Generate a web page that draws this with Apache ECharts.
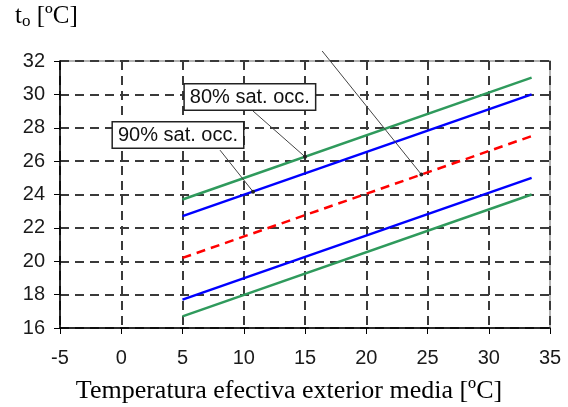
<!DOCTYPE html>
<html>
<head>
<meta charset="utf-8">
<script src="https://cdn.jsdelivr.net/npm/echarts@6/dist/echarts.min.js"></script>
<style>
    html, body {margin: 0; padding: 0; background: #fff;}
    #chart {width: 568px; height: 407px;}
</style>
</head>
<body>
<div id="chart"></div>
<script>
// x range of the comfort lines
const xRange = [5, 33.5];
// operative temperature at x=5 and x=33.5
const greenUpper = [23.7, 31.0];
const blueUpper = [22.7, 30.0];
const redCenter = [20.2, 27.5];
const blueLower = [17.7, 25.0];
const greenLower = [16.7, 24.0];

const xTicks = [-5, 0, 5, 10, 15, 20, 25, 30, 35];
const yTicks = [16, 18, 20, 22, 24, 26, 28, 30, 32];

// annotation boxes (text, center in data coords)
const notes = [
    ['80% sat. occ.', 10.5, 29.84],
    ['90% sat. occ.', 4.63, 27.56]
];
// leader lines: from -> to (data coords)
const leaders = [
    [[10.76, 29.0], [15, 26.26]],
    [[8.06, 26.66], [10.76, 24.17]],
    [[16.4, 32.6], [24.5, 25.2]]
];

const toPairs = vals => xRange.map((x, i) => [x, vals[i]]);

const chart = echarts.init(document.getElementById('chart'));

const lineSeries = (vals, color, dashed) => ({
    type: 'line',
    data: toPairs(vals),
    symbol: 'none',
    silent: true,
    lineStyle: {color: color, width: 2.5, type: dashed ? [9, 6] : 'solid'}
});

chart.setOption({
    animation: false,
    grid: {left: 60, right: 18, top: 61, bottom: 79, show: true, borderColor: '#999', borderWidth: 1.5},
    xAxis: {
        type: 'value', min: xTicks[0], max: xTicks[xTicks.length - 1], interval: 5,
        axisLine: {onZero: false, lineStyle: {color: '#000', width: 1.5}},
        axisTick: {show: true, length: 6, lineStyle: {color: '#000'}},
        axisLabel: {color: '#1a1a1a', fontFamily: 'Liberation Sans', fontSize: 20, margin: 20},
        splitLine: {show: true, lineStyle: {color: '#3a3a3a', type: [9, 6], width: 2}}
    },
    yAxis: {
        type: 'value', min: yTicks[0], max: yTicks[yTicks.length - 1], interval: 2,
        axisLine: {show: true, onZero: false, lineStyle: {color: '#000', width: 1.5}},
        axisTick: {show: true, length: 6, lineStyle: {color: '#000'}},
        axisLabel: {color: '#1a1a1a', fontFamily: 'Liberation Sans', fontSize: 20, margin: 15},
        splitLine: {show: true, lineStyle: {color: '#3a3a3a', type: [9, 6], width: 2}}
    },
    series: [
        lineSeries(greenUpper, '#2f9a5c'),
        lineSeries(blueUpper, '#0000ff'),
        lineSeries(redCenter, '#ff0000', true),
        lineSeries(blueLower, '#0000ff'),
        lineSeries(greenLower, '#2f9a5c')
    ]
});

const px = p => chart.convertToPixel({gridIndex: 0}, p);
const graphics = [];

leaders.forEach(([a, b]) => {
    const p1 = px(a), p2 = px(b);
    graphics.push({type: 'line', shape: {x1: p1[0], y1: p1[1], x2: p2[0], y2: p2[1]},
        style: {stroke: '#444', lineWidth: 1}, z: 10});
    graphics.push({type: 'circle', shape: {cx: p2[0], cy: p2[1], r: 2}, style: {fill: '#222'}, z: 10});
});

notes.forEach(([txt, x, y]) => {
    const p = px([x, y]);
    graphics.push({
        type: 'text', x: p[0], y: p[1], z: 20,
        style: {
            text: txt, fill: '#111', font: '20px "Liberation Sans"',
            align: 'center', verticalAlign: 'middle',
            backgroundColor: '#fff', borderColor: '#222', borderWidth: 1.5, padding: [3, 5, 2, 5]
        }
    });
});

// axis titles
graphics.push({
    type: 'text', left: 15, top: 4,
    style: {
        text: '{t|t}{s|o}{t| [ºC]}',
        rich: {
            t: {fontFamily: 'Liberation Serif', fontSize: 25, fill: '#000'},
            s: {fontFamily: 'Liberation Serif', fontSize: 17, fill: '#000', padding: [11, 0, 0, 0]}
        }
    }
});
graphics.push({
    type: 'text', x: 289, y: 391,
    style: {
        text: 'Temperatura efectiva exterior media [ºC]',
        font: '26px "Liberation Serif"', fill: '#000', align: 'center', verticalAlign: 'middle'
    }
});

chart.setOption({graphic: graphics});
</script>
</body>
</html>
